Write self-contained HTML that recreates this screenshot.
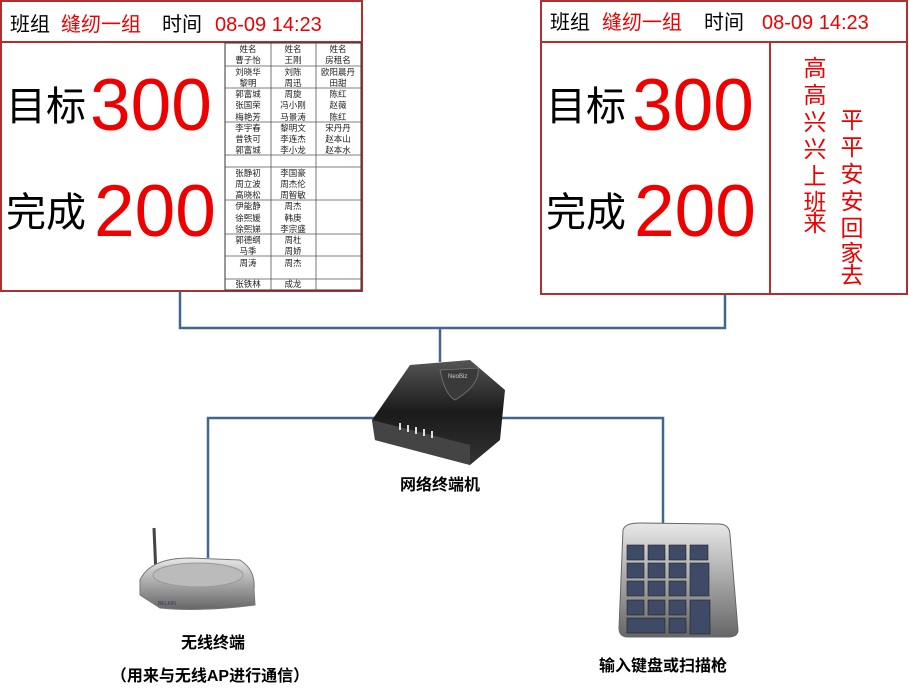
<!DOCTYPE html>
<html><head><meta charset="utf-8"><style>
body{margin:0;background:#fff;width:909px;height:692px;overflow:hidden}
svg text{font-family:"Liberation Sans","Noto Sans CJK SC",sans-serif}
</style></head><body>
<svg width="909" height="692" viewBox="0 0 909 692" xmlns="http://www.w3.org/2000/svg">
<defs>
<linearGradient id="blk" x1="0" y1="0" x2="0" y2="1"><stop offset="0" stop-color="#555"/><stop offset="0.5" stop-color="#1a1a1a"/><stop offset="1" stop-color="#333"/></linearGradient>
<linearGradient id="sil" x1="0" y1="0" x2="0" y2="1"><stop offset="0" stop-color="#e8e8e8"/><stop offset="0.6" stop-color="#9a9a9a"/><stop offset="1" stop-color="#666"/></linearGradient>
</defs>
<g stroke="#41678f" stroke-width="2.5" fill="none">
<polyline points="180,292 180,328 725,328 725,295"/>
<line x1="440" y1="328" x2="440" y2="362"/>
<polyline points="208,558 208,418 663,418 663,523"/>
</g>
<rect x="1" y="1" width="361" height="290" fill="#fff" stroke="#b03030" stroke-width="2"/>
<line x1="1" y1="42" x2="362" y2="42" stroke="#b03030" stroke-width="2"/>
<rect x="225" y="43" width="136" height="247" fill="none" stroke="#333" stroke-width="1"/>
<text x="10" y="31" font-size="20">班组</text>
<text x="61" y="31" font-size="20" fill="#e00">缝纫一组</text>
<text x="162" y="31" font-size="20">时间</text>
<text x="215" y="31" font-size="20" fill="#e00">08-09 14:23</text>
<text x="6" y="120" font-size="40">目标</text>
<text x="90" y="130" font-size="73" fill="#e00">300</text>
<text x="6" y="226" font-size="40">完成</text>
<text x="94" y="236" font-size="73" fill="#e00">200</text>
<g stroke="#555" stroke-width="0.8">
<line x1="271" y1="43" x2="271" y2="290"/><line x1="316" y1="43" x2="316" y2="290"/>
<line x1="225" y1="66" x2="361" y2="66"/><line x1="225" y1="88" x2="361" y2="88"/><line x1="225" y1="122" x2="361" y2="122"/><line x1="225" y1="155" x2="361" y2="155"/><line x1="225" y1="167" x2="361" y2="167"/><line x1="225" y1="200" x2="361" y2="200"/><line x1="225" y1="234" x2="361" y2="234"/><line x1="225" y1="256" x2="361" y2="256"/><line x1="225" y1="279" x2="361" y2="279"/>
</g>
<g font-size="8.5" text-anchor="middle" fill="#222">
<text x="248" y="52">姓名</text><text x="293" y="52">姓名</text><text x="338" y="52">姓名</text>
<text x="248" y="63">曹子怡</text><text x="293" y="63">王刚</text><text x="338" y="63">房租名</text>
<text x="248" y="75">刘晓华</text><text x="293" y="75">刘陈</text><text x="338" y="75">欧阳晨丹</text>
<text x="248" y="86">黎明</text><text x="293" y="86">周迅</text><text x="338" y="86">田甜</text>
<text x="248" y="97">郭富城</text><text x="293" y="97">周旋</text><text x="338" y="97">陈红</text>
<text x="248" y="108">张国荣</text><text x="293" y="108">冯小刚</text><text x="338" y="108">赵薇</text>
<text x="248" y="120">梅艳芳</text><text x="293" y="120">马景涛</text><text x="338" y="120">陈红</text>
<text x="248" y="131">李宇春</text><text x="293" y="131">黎明文</text><text x="338" y="131">宋丹丹</text>
<text x="248" y="142">昔铁可</text><text x="293" y="142">李连杰</text><text x="338" y="142">赵本山</text>
<text x="248" y="153">郭富城</text><text x="293" y="153">李小龙</text><text x="338" y="153">赵本水</text>
<text x="248" y="176">张静初</text><text x="293" y="176">李国豪</text>
<text x="248" y="187">周立波</text><text x="293" y="187">周杰伦</text>
<text x="248" y="198">高晓松</text><text x="293" y="198">周智敏</text>
<text x="248" y="209">伊能静</text><text x="293" y="209">周杰</text>
<text x="248" y="221">徐熙媛</text><text x="293" y="221">韩庚</text>
<text x="248" y="232">徐熙娣</text><text x="293" y="232">李宗盛</text>
<text x="248" y="243">郭德纲</text><text x="293" y="243">周杜</text>
<text x="248" y="254">马季</text><text x="293" y="254">周娇</text>
<text x="248" y="266">周涛</text><text x="293" y="266">周杰</text>
<text x="248" y="287">张铁林</text><text x="293" y="287">成龙</text>
</g>
<rect x="541" y="1" width="366" height="293" fill="#fff" stroke="#b03030" stroke-width="2"/>
<line x1="541" y1="42" x2="907" y2="42" stroke="#b03030" stroke-width="2"/>
<line x1="770" y1="42" x2="770" y2="294" stroke="#b03030" stroke-width="2"/>
<text x="550" y="29" font-size="20">班组</text>
<text x="602" y="29" font-size="20" fill="#e00">缝纫一组</text>
<text x="704" y="29" font-size="20">时间</text>
<text x="762" y="29" font-size="20" fill="#e00">08-09 14:23</text>
<text x="546" y="120" font-size="40">目标</text>
<text x="632" y="130" font-size="73" fill="#e00">300</text>
<text x="546" y="226" font-size="40">完成</text>
<text x="634" y="236" font-size="73" fill="#e00">200</text>
<g font-size="23" fill="#e00" text-anchor="middle" style="font-family:'Noto Serif CJK SC','Liberation Serif',serif">
<text x="815" y="76">高</text><text x="815" y="103">高</text><text x="815" y="130">兴</text><text x="815" y="157">兴</text><text x="815" y="184">上</text><text x="815" y="210">班</text><text x="815" y="231">来</text>
<text x="852" y="128">平</text><text x="852" y="155">平</text><text x="852" y="182">安</text><text x="852" y="209">安</text><text x="852" y="236">回</text><text x="852" y="261">家</text><text x="852" y="283">去</text>
</g>
<path d="M372,420 L410,365 L470,360 L505,390 L500,440 L470,465 L375,440 Z" fill="url(#blk)"/>
<path d="M372,420 L470,445 L470,465 L375,440 Z" fill="#444"/>
<path d="M440,370 Q445,395 455,400 Q480,385 478,368 Z" fill="#3a3a3a" stroke="#777" stroke-width="0.8"/>
<text x="448" y="378" font-size="6" fill="#ccc">NeoBiz</text>
<g stroke="#ddd" stroke-width="2"><line x1="400" y1="423" x2="400" y2="430"/><line x1="408" y1="425" x2="408" y2="432"/><line x1="416" y1="427" x2="416" y2="434"/><line x1="424" y1="429" x2="424" y2="436"/><line x1="432" y1="431" x2="432" y2="438"/></g>
<text x="440" y="490" font-size="16" font-weight="bold" text-anchor="middle">网络终端机</text>
<line x1="154" y1="528" x2="156" y2="575" stroke="#444" stroke-width="3"/>
<path d="M140,580 Q150,558 190,558 L240,560 Q256,570 254,590 L255,605 Q200,612 160,608 L140,595 Z" fill="url(#sil)" stroke="#777"/>
<ellipse cx="198" cy="575" rx="45" ry="12" fill="#bbb" stroke="#999"/>
<text x="158" y="605" font-size="5" fill="#336">BELKIN</text>
<text x="213" y="648" font-size="16" font-weight="bold" text-anchor="middle">无线终端</text>
<text x="210" y="681" font-size="16" font-weight="bold" text-anchor="middle">（用来与无线AP进行通信）</text>
<path d="M623,530 Q625,523 640,523 L720,524 Q730,525 730,535 L738,630 Q738,637 728,637 L628,637 Q619,637 619,628 Z" fill="url(#sil)" stroke="#666"/>
<g fill="#3f4a66" stroke="#222" stroke-width="0.6">
<rect x="627" y="545" width="17" height="15"/><rect x="648" y="545" width="17" height="15"/><rect x="669" y="545" width="17" height="15"/><rect x="690" y="545" width="18" height="15"/>
<rect x="627" y="563" width="17" height="15"/><rect x="648" y="563" width="17" height="15"/><rect x="669" y="563" width="17" height="15"/><rect x="690" y="563" width="19" height="33"/>
<rect x="627" y="581" width="17" height="15"/><rect x="648" y="581" width="17" height="15"/><rect x="669" y="581" width="17" height="15"/>
<rect x="627" y="600" width="17" height="15"/><rect x="648" y="600" width="17" height="15"/><rect x="669" y="600" width="17" height="15"/><rect x="690" y="600" width="20" height="34"/>
<rect x="627" y="618" width="38" height="15"/><rect x="669" y="618" width="17" height="15"/>
</g>
<text x="663" y="671" font-size="16" font-weight="bold" text-anchor="middle">输入键盘或扫描枪</text>
</svg>
</body></html>
